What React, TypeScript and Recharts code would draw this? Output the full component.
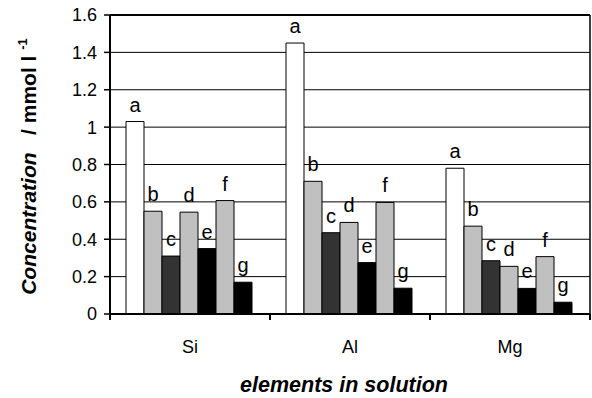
import React from 'react';
import { BarChart, Bar, XAxis, YAxis, CartesianGrid, ReferenceLine } from 'recharts';

const categories = ['Si', 'Al', 'Mg'];
const seriesA = [1.03, 1.45, 0.78];
const seriesB = [0.55, 0.71, 0.47];
const seriesC = [0.31, 0.435, 0.285];
const seriesD = [0.545, 0.49, 0.255];
const seriesE = [0.35, 0.275, 0.137];
const seriesF = [0.607, 0.597, 0.307];
const seriesG = [0.17, 0.138, 0.063];
const seriesLetters = ['a', 'b', 'c', 'd', 'e', 'f', 'g'];
const seriesColors = ['#ffffff', '#c0c0c0', '#333333', '#c0c0c0', '#000000', '#c0c0c0', '#000000'];
const yTicks = [0, 0.2, 0.4, 0.6, 0.8, 1, 1.2, 1.4, 1.6];

const allSeries = [seriesA, seriesB, seriesC, seriesD, seriesE, seriesF, seriesG];
const data = categories.map((name, i) => {
  const row: any = { name };
  seriesLetters.forEach((k, s) => {
    row[k] = allSeries[s][i];
  });
  return row;
});

const W = 592;
const H = 398;
const Y_AXIS_W = 110;
const RIGHT_AXIS_W = 2;
const BAND = (W - RIGHT_AXIS_W - Y_AXIS_W) / categories.length;
const FONT = 'Liberation Sans, Arial, sans-serif';

const CatTick = (props: any) => {
  const { x, y, payload, index } = props;
  const half = BAND / 2;
  return (
    <g>
      <line x1={x - half} y1={y} x2={x - half} y2={y + 6} stroke="#000" strokeWidth={2} />
      {index === categories.length - 1 && (
        <line x1={x + half} y1={y} x2={x + half} y2={y + 6} stroke="#000" strokeWidth={2} />
      )}
      <text x={x} y={y + 39} textAnchor="middle" fontSize={18} fontFamily={FONT} fill="#000">
        {payload.value}
      </text>
    </g>
  );
};

const makeLabel = (letter: string) => (props: any) => {
  const { x, y, width } = props;
  return (
    <text x={x + width / 2} y={y - 10} textAnchor="middle" fontSize={20} fontFamily={FONT} fill="#000">
      {letter}
    </text>
  );
};

const YTitle = (props: any) => {
  const vb = props.viewBox || { x: 0, y: 15, width: 110, height: 299 };
  const cx = vb.x + 36;
  const cy = vb.y + vb.height / 2 + 2;
  return (
    <text
      x={cx}
      y={cy}
      transform={`rotate(-90, ${cx}, ${cy})`}
      textAnchor="middle"
      fontFamily={FONT}
      fontSize={21}
      fontWeight="bold"
      fill="#000"
    >
      <tspan fontStyle="italic">Concentration</tspan>
      <tspan>{'\u00a0\u00a0\u00a0/ mmol l\u00a0'}</tspan>
      <tspan fontSize={13} dy={-9}>-1</tspan>
    </text>
  );
};

const XTitle = (props: any) => {
  const vb = props.viewBox || { x: 110, y: 314, width: 480, height: 84 };
  return (
    <text
      x={vb.x + vb.width / 2 - 6}
      y={vb.y + 78}
      textAnchor="middle"
      fontFamily={FONT}
      fontSize={21.5}
      fontWeight="bold"
      fontStyle="italic"
      fill="#000"
    >
      elements in solution
    </text>
  );
};

export default function App() {
  return (
    <div style={{ position: 'absolute', left: 0, top: 0, width: W, height: H, background: '#fff' }}>
      <BarChart
        width={W}
        height={H}
        data={data}
        margin={{ top: 15, right: 0, left: 0, bottom: 0 }}
        barCategoryGap="10%"
        barGap={0}
      >
        <CartesianGrid vertical={false} stroke="#000" strokeWidth={1} />
        <XAxis
          dataKey="name"
          height={84}
          tickSize={0}
          tickMargin={0}
          tickLine={false}
          axisLine={{ stroke: '#000', strokeWidth: 2 }}
          tick={<CatTick />}
          interval={0}
          label={{ content: <XTitle /> } as any}
        />
        <YAxis
          width={Y_AXIS_W}
          domain={[0, 1.6]}
          ticks={yTicks}
          interval={0}
          tickSize={6}
          tickMargin={7}
          tickLine={{ stroke: '#000', strokeWidth: 1.5 }}
          axisLine={{ stroke: '#000', strokeWidth: 2 }}
          tick={{ fill: '#000', fontSize: 18, fontFamily: FONT }}
          label={{ content: <YTitle /> } as any}
        />
        <YAxis
          yAxisId="frame"
          orientation="right"
          width={RIGHT_AXIS_W}
          domain={[0, 1.6]}
          tick={false}
          tickLine={false}
          axisLine={{ stroke: '#000', strokeWidth: 1.5 }}
        />
        <ReferenceLine y={1.6} stroke="#000" strokeWidth={2} />
        {seriesLetters.map((k, s) => (
          <Bar
            key={k}
            dataKey={k}
            fill={seriesColors[s]}
            stroke="#000"
            strokeWidth={1}
            isAnimationActive={false}
            label={makeLabel(k)}
          />
        ))}
      </BarChart>
    </div>
  );
}
